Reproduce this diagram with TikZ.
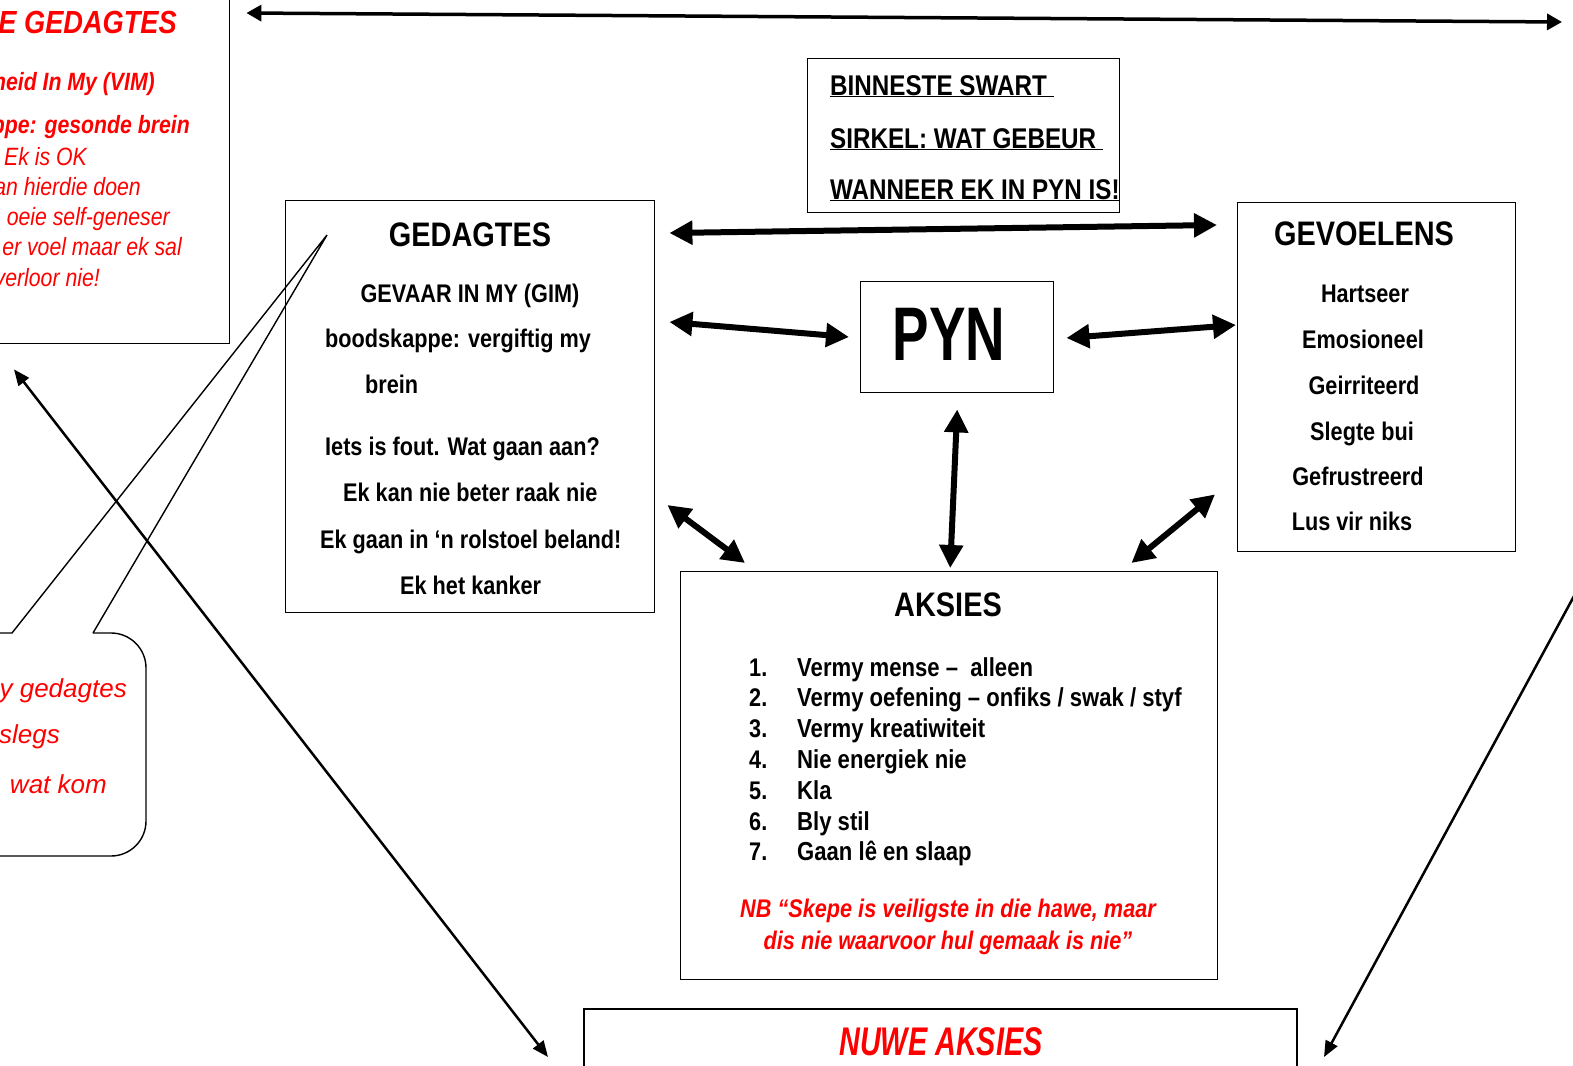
\documentclass[tikz,border=0pt]{standalone}
\usepackage{fontspec}
\setmainfont{Liberation Sans}
\newfontfamily\narrowfont{Liberation Sans}[FakeStretch=0.85]
\newfontfamily\tightfont{Liberation Sans}[FakeStretch=0.72]
\usetikzlibrary{arrows.meta, calc, positioning}

\tikzset{
  box/.style={draw, line width=1.4pt, anchor=north west, inner sep=0pt},
  body/.style={font=\narrowfont\bfseries\fontsize{25.5}{30}\selectfont, inner sep=0pt, anchor=base west},
  bodyc/.style={body, anchor=base},
  head/.style={font=\narrowfont\bfseries\fontsize{34}{40}\selectfont, inner sep=0pt, anchor=base},
  rednote/.style={font=\narrowfont\itshape\fontsize{25}{30}\selectfont, text=red, inner sep=0pt, anchor=base east},
  rednoteb/.style={rednote, font=\narrowfont\bfseries\itshape\fontsize{25}{30}\selectfont},
  bubbletxt/.style={font=\itshape\fontsize{26}{30}\selectfont, text=red, inner sep=0pt, anchor=base east},
  inner/.style={body, font=\narrowfont\bfseries\fontsize{28.5}{30}\selectfont},
  both/.style={line width=6pt, {Triangle[length=23pt,width=23pt]}-{Triangle[length=23pt,width=23pt]}},
  slimboth/.style={line width=2.5pt, {Triangle[length=16pt,width=13pt]}-{Triangle[length=16pt,width=13pt]}},
}

\begin{document}
\begin{tikzpicture}[x=1pt, y=-1pt]
	\useasboundingbox (0,0) rectangle (1573,1065);
	\fill[white] (0,0) rectangle (1573,1065);
	\clip (0,0) rectangle (1573,1065);

	% left red box (cut by the page)
	\node[box, minimum width=259pt, minimum height=373pt] (goodbox) at (-30,-30) {};
	\node[rednoteb, font=\narrowfont\bfseries\itshape\fontsize{32}{36}\selectfont] (goodtitle) at (177,34) {E GEDAGTES};
	\node[rednoteb] (vim) at (155,90) {heid In My (VIM)};
	\node[rednoteb] (vimmsg) at (190,133) {ppe: gesonde brein};
	\foreach \t/\x/\y [count=\i] in {Ek is OK/87/165, an hierdie doen/141/195, oeie self-geneser/170/225,
		er voel maar ek sal/182/255, verloor nie!/100/286}
		\node[rednote] (good\i) at (\x,\y) {\t};

	% speech bubble
	\draw[line width=1.4pt] (-20,633) -- (12,633) -- (327,235) -- (93,633);
	\draw[line width=1.4pt, rounded corners=35pt] (93,633) -- (146,633) -- (146,856) -- (-20,856);
	\node[bubbletxt] (bub1) at (127,697) {y gedagtes};
	\node[bubbletxt] (bub2) at (60,743) {slegs};
	\node[bubbletxt] (bub3) at (107,793) {wat kom};

	% inner circle note
	\node[box, minimum width=312pt, minimum height=154pt] (binneste) at (807,58) {};
	\node[inner] (bin1) at (830,95) {\underline{BINNESTE SWART\ }};
	\node[inner] (bin2) at (830,148) {\underline{SIRKEL: WAT GEBEUR\ }};
	\node[inner] (bin3) at (830,199) {\underline{WANNEER EK IN PYN IS!}};

	% gedagtes
	\node[box, minimum width=369pt, minimum height=412pt] (gedagtes) at (285,200) {};
	\node[head] (gedtitle) at (470,246) {GEDAGTES};
	\node[bodyc] (gim) at (470,302) {GEVAAR IN MY (GIM)};
	\foreach \t/\x/\y [count=\i] in {boodskappe: vergiftig my/325/347, brein/365/393,
		Iets is fout. Wat gaan aan?/325/455, Ek kan nie beter raak nie/343/501,
		Ek gaan in ‘n rolstoel beland!/320/548, Ek het kanker/400/594}
		\node[body] (ged\i) at (\x,\y) {\t};

	% pyn
	\node[box, minimum width=193pt, minimum height=111pt] (pyn) at (860,281) {};
	\node[font=\tightfont\bfseries\fontsize{76}{80}\selectfont, inner sep=0pt, anchor=base] (pynlabel) at (949,360) {PYN};

	% gevoelens
	\node[box, minimum width=278pt, minimum height=349pt] (gevoelens) at (1237,202) {};
	\node[head] (gevtitle) at (1364,245) {GEVOELENS};
	\foreach \t/\x/\y [count=\i] in {Hartseer/1365/302, Emosioneel/1363/348, Geirriteerd/1364/394,
		Slegte bui/1362/440, Gefrustreerd/1358/485, Lus vir niks/1352/530}
		\node[bodyc] (gev\i) at (\x,\y) {\t};

	% aksies
	\node[box, minimum width=537pt, minimum height=408pt] (aksies) at (680,571) {};
	\node[head] (akstitle) at (948,616) {AKSIES};
	\foreach \t [count=\i] in {Vermy mense –\ \ alleen, Vermy oefening – onfiks / swak / styf,
		Vermy kreatiwiteit, Nie energiek nie, Kla, Bly stil, Gaan lê en slaap}
	{
		\node[body] (nr\i) at (749,{676+30.8*(\i-1)}) {\i.};
		\node[body, font=\narrowfont\bfseries\fontsize{26}{30}\selectfont] (aks\i) at (797,{676+30.8*(\i-1)}) {\t};
	}
	\node[bodyc, font=\narrowfont\bfseries\itshape\fontsize{25.5}{30}\selectfont, text=red] (nb1) at (948,917) {NB “Skepe is veiligste in die hawe, maar};
	\node[bodyc, font=\narrowfont\bfseries\itshape\fontsize{25.5}{30}\selectfont, text=red] (nb2) at (948,949) {dis nie waarvoor hul gemaak is nie”};

	% nuwe aksies
	\node[box, line width=2pt, minimum width=713pt, minimum height=100pt] (nuwe) at (583,1008) {};
	\node[font=\tightfont\bfseries\itshape\fontsize{40}{44}\selectfont, text=red, inner sep=0pt, anchor=base] (nuwetitle) at (941,1055) {NUWE AKSIES};

	% arrows
	\coordinate (topright) at (1562,22);
	\coordinate (farright) at (1580,585);
	\draw[line width=3.5pt, {Triangle[length=15pt,width=16pt]}-{Triangle[length=15pt,width=16pt]}]
		($(goodbox.north east)+(16,43)$) -- (topright);
	\draw[both] ($(gedagtes.north east)+(14,33)$) -- ($(gevoelens.north west)+(-20,23)$);
	\draw[both] ($(gedagtes.north east)+(14,122)$) -- ($(pyn.north west)+(-11,56)$);
	\draw[both] ($(pyn.north east)+(12,57)$) -- ($(gevoelens.north west)+(-1,123)$);
	\draw[both] ($(pyn.south)+(0,16)$) -- ($(aksies.north)+(1,-3)$);
	\draw[both] ($(gedagtes.north east)+(12,305)$) -- ($(aksies.north west)+(65,-8)$);
	\draw[both] ($(gevoelens.south west)+(-22,-58)$) -- ($(aksies.north east)+(-87,-8)$);
	\draw[slimboth] ($(goodbox.south west)+(44,25)$) -- ($(nuwe.north west)+(-35,49)$);
	\draw[line width=2.5pt, -{Triangle[length=16pt,width=13pt]}] (farright) -- ($(nuwe.north east)+(26,49)$);
\end{tikzpicture}
\end{document}
